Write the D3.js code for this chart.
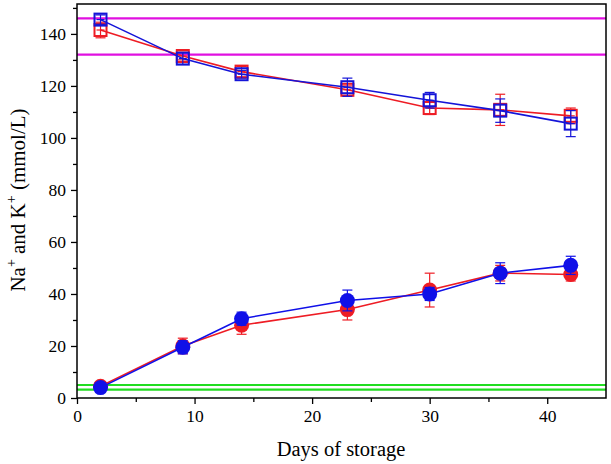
<!DOCTYPE html>
<html><head><meta charset="utf-8">
<script src="https://cdn.jsdelivr.net/npm/d3@7"></script>
<style>body{margin:0;background:#fff}svg{display:block}</style>
</head><body>
<svg id="c" width="611" height="464" font-family="'Liberation Serif', 'Times New Roman', Times, 'DejaVu Serif', serif"></svg>
<script>
const days = [2, 9, 14, 23, 30, 36, 42];
const naRed = [141.5, 131.5, 125.5, 118.5, 111.5, 110.8, 108.5];
const naRedErr = [3, 1.5, 2, 1.5, 2.5, 6, 3];
const naBlue = [145.5, 130.5, 124.5, 119.5, 114.5, 110.5, 105.5];
const naBlueErr = [1.8, 2.2, 1.5, 3.5, 3, 4.5, 5];
const kRed = [4.5, 20, 28, 34, 41.5, 48, 47.5];
const kRedErr = [1.5, 3, 3.5, 4, 6.5, 3, 2.5];
const kBlue = [4, 19.5, 30.5, 37.5, 40, 48, 51];
const kBlueErr = [1.5, 2.5, 2.5, 4, 2.5, 4, 3.5];
const naRange = [132, 146];
const kRange = [3.2, 5];
const xTicks = [0, 10, 20, 30, 40];
const yTicks = [0, 20, 40, 60, 80, 100, 120, 140];

const FONT = "'Liberation Serif', 'Times New Roman', Times, 'DejaVu Serif', serif";
const svg = d3.select("#c");
const L = 77, R = 606, T = 4, B = 398;
const x = d3.scaleLinear().domain([0, 45]).range([L, R]);
const y = d3.scaleLinear().domain([0, 151.5]).range([B, T]);

// reference lines
naRange.forEach(v => svg.append("line").attr("x1", L).attr("x2", R).attr("y1", y(v)).attr("y2", y(v))
  .attr("stroke", "#e010e0").attr("stroke-width", 2.2));
kRange.forEach(v => svg.append("line").attr("x1", L).attr("x2", R).attr("y1", y(v)).attr("y2", y(v))
  .attr("stroke", "#22dd22").attr("stroke-width", 2.2));

// axes
const xMinor = d3.range(5, 45, 10);
const yMinor = d3.range(10, 151, 20);
const gx = svg.append("g").attr("transform", `translate(0,${B})`);
gx.call(d3.axisBottom(x).tickValues(xTicks).tickFormat(d3.format("d")).tickSize(6).tickPadding(6));
gx.append("g").call(d3.axisBottom(x).tickValues(xMinor).tickFormat("").tickSize(4));
const gy = svg.append("g").attr("transform", `translate(${L},0)`);
gy.call(d3.axisLeft(y).tickValues(yTicks).tickFormat(d3.format("d")).tickSize(6).tickPadding(5));
gy.append("g").call(d3.axisLeft(y).tickValues(yMinor).tickFormat("").tickSize(4));
svg.selectAll("g").attr("font-family", FONT);
svg.selectAll(".domain").remove();
svg.selectAll(".tick line").attr("stroke", "#000").attr("stroke-width", 1.3);
svg.selectAll(".tick text").attr("font-size", 17.5).attr("fill", "#000").attr("font-family", FONT);

// frame
svg.append("rect").attr("x", L).attr("y", T).attr("width", R - L).attr("height", B - T)
  .attr("fill", "none").attr("stroke", "#000").attr("stroke-width", 1.5);

const line = d3.line().x((d, i) => x(days[i])).y(d => y(d));
function series(vals, errs, color, shape) {
  svg.append("path").datum(vals).attr("d", line).attr("fill", "none").attr("stroke", color).attr("stroke-width", 1.6);
  const g = svg.append("g");
  vals.forEach((v, i) => {
    const cx = x(days[i]);
    g.append("line").attr("x1", cx).attr("x2", cx).attr("y1", y(v - errs[i])).attr("y2", y(v + errs[i]))
      .attr("stroke", color).attr("stroke-width", 1.2);
    [v - errs[i], v + errs[i]].forEach(e => g.append("line").attr("x1", cx - 5).attr("x2", cx + 5)
      .attr("y1", y(e)).attr("y2", y(e)).attr("stroke", color).attr("stroke-width", 1.2));
    if (shape === "square") {
      g.append("rect").attr("x", cx - 6).attr("y", y(v) - 6).attr("width", 12).attr("height", 12)
        .attr("fill", "none").attr("stroke", color).attr("stroke-width", 2);
      g.append("line").attr("x1", cx - 4).attr("x2", cx + 4).attr("y1", y(v)).attr("y2", y(v))
        .attr("stroke", color).attr("stroke-width", 1.2);
    } else {
      g.append("circle").attr("cx", cx).attr("cy", y(v)).attr("r", 7.5).attr("fill", color);
    }
  });
}
series(naRed, naRedErr, "#ee1c24", "square");
series(naBlue, naBlueErr, "#1414d8", "square");
series(kRed, kRedErr, "#ee1c24", "circle");
series(kBlue, kBlueErr, "#1010e8", "circle");

// titles
svg.append("text").attr("x", 341).attr("y", 456).attr("text-anchor", "middle")
  .attr("font-family", FONT).attr("font-size", 20.5).text("Days of storage");
const yt = svg.append("text").attr("transform", `translate(25,200) rotate(-90)`)
  .attr("text-anchor", "middle").attr("font-family", FONT).attr("font-size", 21);
yt.append("tspan").text("Na");
yt.append("tspan").attr("dy", -9).attr("font-size", 14).text("+");
yt.append("tspan").attr("dy", 9).text(" and K");
yt.append("tspan").attr("dy", -9).attr("font-size", 14).text("+");
yt.append("tspan").attr("dy", 9).text(" (mmol/L)");
</script>
</body></html>
